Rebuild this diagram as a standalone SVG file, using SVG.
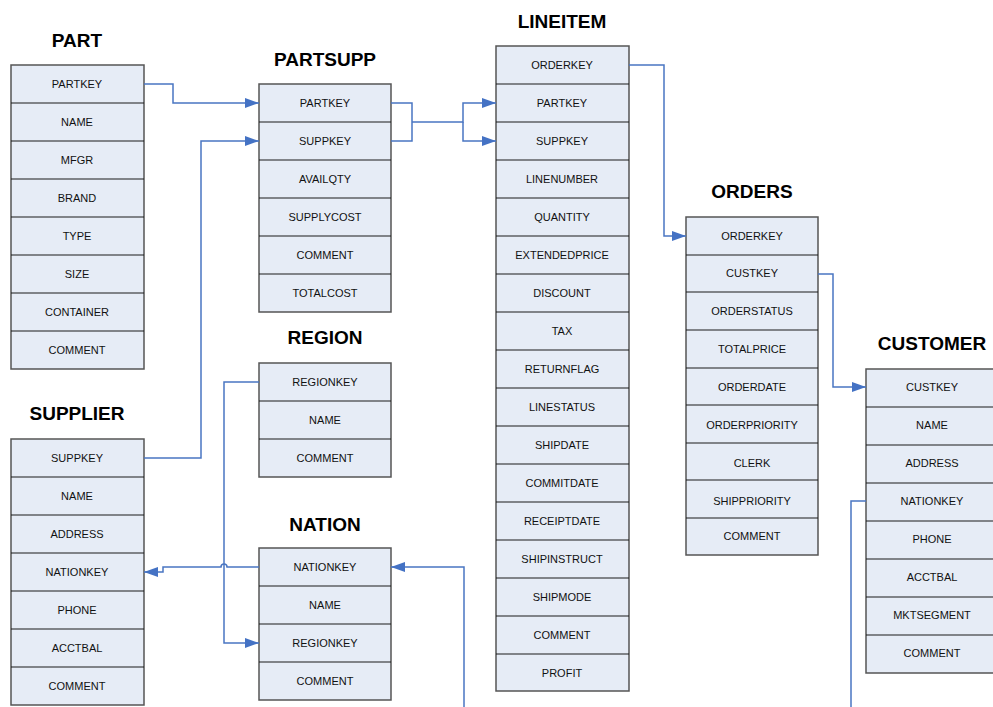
<svg xmlns="http://www.w3.org/2000/svg" width="993" height="707" viewBox="0 0 993 707">
  <style>
    .box { fill: #e6ecf6; stroke: #555; stroke-width: 1.5; }
    .div { stroke: #1a1a1a; stroke-width: 1; }
    .fld { font-family: "Liberation Sans", Arial, sans-serif; font-size: 11px; fill: #111; text-anchor: middle; }
    .ttl { font-family: "Liberation Sans", Arial, sans-serif; font-size: 19px; font-weight: bold; fill: #000; text-anchor: middle; }
    .link { fill: none; stroke: #4a76c2; stroke-width: 1.5; }
  </style>
  <defs>
    <marker id="arrow" markerUnits="userSpaceOnUse" markerWidth="14" markerHeight="10" refX="14" refY="5" orient="auto">
      <path d="M0,0 L14,5 L0,10 z" fill="#4472c4"/>
    </marker>
  </defs>

  <rect width="993" height="707" fill="#fff"/>

  <!-- PART -->
  <g id="part">
    <text class="ttl" x="77" y="47">PART</text>
    <rect class="box" x="11" y="65" width="133" height="304"/>
    <g class="div">
      <line x1="11" y1="103" x2="144" y2="103"/><line x1="11" y1="141" x2="144" y2="141"/>
      <line x1="11" y1="179" x2="144" y2="179"/><line x1="11" y1="217" x2="144" y2="217"/>
      <line x1="11" y1="255" x2="144" y2="255"/><line x1="11" y1="293" x2="144" y2="293"/>
      <line x1="11" y1="331" x2="144" y2="331"/>
    </g>
    <text class="fld" x="77" y="87.5">PARTKEY</text>
    <text class="fld" x="77" y="125.5">NAME</text>
    <text class="fld" x="77" y="163.5">MFGR</text>
    <text class="fld" x="77" y="201.5">BRAND</text>
    <text class="fld" x="77" y="239.5">TYPE</text>
    <text class="fld" x="77" y="277.5">SIZE</text>
    <text class="fld" x="77" y="315.5">CONTAINER</text>
    <text class="fld" x="77" y="353.5">COMMENT</text>
  </g>

  <!-- PARTSUPP -->
  <g id="partsupp">
    <text class="ttl" x="325" y="66">PARTSUPP</text>
    <rect class="box" x="259" y="84" width="132" height="228"/>
    <g class="div">
      <line x1="259" y1="122" x2="391" y2="122"/><line x1="259" y1="160" x2="391" y2="160"/>
      <line x1="259" y1="198" x2="391" y2="198"/><line x1="259" y1="236" x2="391" y2="236"/>
      <line x1="259" y1="274" x2="391" y2="274"/>
    </g>
    <text class="fld" x="325" y="106.5">PARTKEY</text>
    <text class="fld" x="325" y="144.5">SUPPKEY</text>
    <text class="fld" x="325" y="182.5">AVAILQTY</text>
    <text class="fld" x="325" y="220.5">SUPPLYCOST</text>
    <text class="fld" x="325" y="258.5">COMMENT</text>
    <text class="fld" x="325" y="296.5">TOTALCOST</text>
  </g>

  <!-- LINEITEM -->
  <g id="lineitem">
    <text class="ttl" x="562" y="27.5">LINEITEM</text>
    <rect class="box" x="496" y="46" width="133" height="645"/>
    <g class="div">
      <line x1="496" y1="84" x2="629" y2="84"/><line x1="496" y1="122" x2="629" y2="122"/>
      <line x1="496" y1="160" x2="629" y2="160"/><line x1="496" y1="198" x2="629" y2="198"/>
      <line x1="496" y1="236" x2="629" y2="236"/><line x1="496" y1="274" x2="629" y2="274"/>
      <line x1="496" y1="312" x2="629" y2="312"/><line x1="496" y1="350" x2="629" y2="350"/>
      <line x1="496" y1="388" x2="629" y2="388"/><line x1="496" y1="426" x2="629" y2="426"/>
      <line x1="496" y1="464" x2="629" y2="464"/><line x1="496" y1="502" x2="629" y2="502"/>
      <line x1="496" y1="540" x2="629" y2="540"/><line x1="496" y1="578" x2="629" y2="578"/>
      <line x1="496" y1="616" x2="629" y2="616"/><line x1="496" y1="654" x2="629" y2="654"/>
    </g>
    <text class="fld" x="562" y="68.5">ORDERKEY</text>
    <text class="fld" x="562" y="106.5">PARTKEY</text>
    <text class="fld" x="562" y="144.5">SUPPKEY</text>
    <text class="fld" x="562" y="182.5">LINENUMBER</text>
    <text class="fld" x="562" y="220.5">QUANTITY</text>
    <text class="fld" x="562" y="258.5">EXTENDEDPRICE</text>
    <text class="fld" x="562" y="296.5">DISCOUNT</text>
    <text class="fld" x="562" y="334.5">TAX</text>
    <text class="fld" x="562" y="372.5">RETURNFLAG</text>
    <text class="fld" x="562" y="410.5">LINESTATUS</text>
    <text class="fld" x="562" y="448.5">SHIPDATE</text>
    <text class="fld" x="562" y="486.5">COMMITDATE</text>
    <text class="fld" x="562" y="524.5">RECEIPTDATE</text>
    <text class="fld" x="562" y="562.5">SHIPINSTRUCT</text>
    <text class="fld" x="562" y="600.5">SHIPMODE</text>
    <text class="fld" x="562" y="638.5">COMMENT</text>
    <text class="fld" x="562" y="676.5">PROFIT</text>
  </g>

  <!-- ORDERS -->
  <g id="orders">
    <text class="ttl" x="752" y="198">ORDERS</text>
    <rect class="box" x="686" y="217" width="132" height="338"/>
    <g class="div">
      <line x1="686" y1="255" x2="818" y2="255"/><line x1="686" y1="292" x2="818" y2="292"/>
      <line x1="686" y1="330" x2="818" y2="330"/><line x1="686" y1="368" x2="818" y2="368"/>
      <line x1="686" y1="405" x2="818" y2="405"/><line x1="686" y1="443" x2="818" y2="443"/>
      <line x1="686" y1="480" x2="818" y2="480"/><line x1="686" y1="518" x2="818" y2="518"/>
    </g>
    <text class="fld" x="752" y="239.5">ORDERKEY</text>
    <text class="fld" x="752" y="276.5">CUSTKEY</text>
    <text class="fld" x="752" y="314.5">ORDERSTATUS</text>
    <text class="fld" x="752" y="352.5">TOTALPRICE</text>
    <text class="fld" x="752" y="390.5">ORDERDATE</text>
    <text class="fld" x="752" y="428.5">ORDERPRIORITY</text>
    <text class="fld" x="752" y="466.5">CLERK</text>
    <text class="fld" x="752" y="504.5">SHIPPRIORITY</text>
    <text class="fld" x="752" y="539.5">COMMENT</text>
  </g>

  <!-- CUSTOMER -->
  <g id="customer">
    <text class="ttl" x="932" y="350">CUSTOMER</text>
    <rect class="box" x="866" y="369" width="133" height="304"/>
    <g class="div">
      <line x1="866" y1="407" x2="999" y2="407"/><line x1="866" y1="445" x2="999" y2="445"/>
      <line x1="866" y1="483" x2="999" y2="483"/><line x1="866" y1="521" x2="999" y2="521"/>
      <line x1="866" y1="559" x2="999" y2="559"/><line x1="866" y1="597" x2="999" y2="597"/>
      <line x1="866" y1="635" x2="999" y2="635"/>
    </g>
    <text class="fld" x="932" y="390.5">CUSTKEY</text>
    <text class="fld" x="932" y="428.5">NAME</text>
    <text class="fld" x="932" y="466.5">ADDRESS</text>
    <text class="fld" x="932" y="504.5">NATIONKEY</text>
    <text class="fld" x="932" y="542.5">PHONE</text>
    <text class="fld" x="932" y="580.5">ACCTBAL</text>
    <text class="fld" x="932" y="618.5">MKTSEGMENT</text>
    <text class="fld" x="932" y="656.5">COMMENT</text>
  </g>

  <!-- REGION -->
  <g id="region">
    <text class="ttl" x="325" y="344">REGION</text>
    <rect class="box" x="259" y="363" width="132" height="114"/>
    <g class="div">
      <line x1="259" y1="401" x2="391" y2="401"/><line x1="259" y1="439" x2="391" y2="439"/>
    </g>
    <text class="fld" x="325" y="385.5">REGIONKEY</text>
    <text class="fld" x="325" y="423.5">NAME</text>
    <text class="fld" x="325" y="461.5">COMMENT</text>
  </g>

  <!-- NATION -->
  <g id="nation">
    <text class="ttl" x="325" y="531">NATION</text>
    <rect class="box" x="259" y="548" width="132" height="152"/>
    <g class="div">
      <line x1="259" y1="586" x2="391" y2="586"/><line x1="259" y1="624" x2="391" y2="624"/>
      <line x1="259" y1="662" x2="391" y2="662"/>
    </g>
    <text class="fld" x="325" y="570.5">NATIONKEY</text>
    <text class="fld" x="325" y="608.5">NAME</text>
    <text class="fld" x="325" y="646.5">REGIONKEY</text>
    <text class="fld" x="325" y="684.5">COMMENT</text>
  </g>

  <!-- SUPPLIER -->
  <g id="supplier">
    <text class="ttl" x="77" y="420">SUPPLIER</text>
    <rect class="box" x="11" y="439" width="133" height="266"/>
    <g class="div">
      <line x1="11" y1="477" x2="144" y2="477"/><line x1="11" y1="515" x2="144" y2="515"/>
      <line x1="11" y1="553" x2="144" y2="553"/><line x1="11" y1="591" x2="144" y2="591"/>
      <line x1="11" y1="629" x2="144" y2="629"/><line x1="11" y1="667" x2="144" y2="667"/>
    </g>
    <text class="fld" x="77" y="461.5">SUPPKEY</text>
    <text class="fld" x="77" y="499.5">NAME</text>
    <text class="fld" x="77" y="537.5">ADDRESS</text>
    <text class="fld" x="77" y="575.5">NATIONKEY</text>
    <text class="fld" x="77" y="613.5">PHONE</text>
    <text class="fld" x="77" y="651.5">ACCTBAL</text>
    <text class="fld" x="77" y="689.5">COMMENT</text>
  </g>

  <!-- foreign-key connectors -->
  <g id="connectors">
    <path class="link" d="M144,84 H173 V103 H259" marker-end="url(#arrow)"/>
    <path class="link" d="M144,458 H201 V141 H259" marker-end="url(#arrow)"/>
    <path class="link" d="M391,103 H412 V141 H391"/>
    <path class="link" d="M412,122 H463 V103 H496" marker-end="url(#arrow)"/>
    <path class="link" d="M463,122 V141 H496" marker-end="url(#arrow)"/>
    <path class="link" d="M629,65 H664 V236 H686" marker-end="url(#arrow)"/>
    <path class="link" d="M818,274 H833 V387 H866" marker-end="url(#arrow)"/>
    <path class="link" d="M259,382 H224 V643 H259" marker-end="url(#arrow)"/>
    <path class="link" d="M259,567 H227 A3,3 0 0 0 221,567 H163 V572 H144" marker-end="url(#arrow)"/>
    <path class="link" d="M866,501 H851 V707"/>
    <path class="link" d="M464,707 V567 H391" marker-end="url(#arrow)"/>
  </g>
</svg>
